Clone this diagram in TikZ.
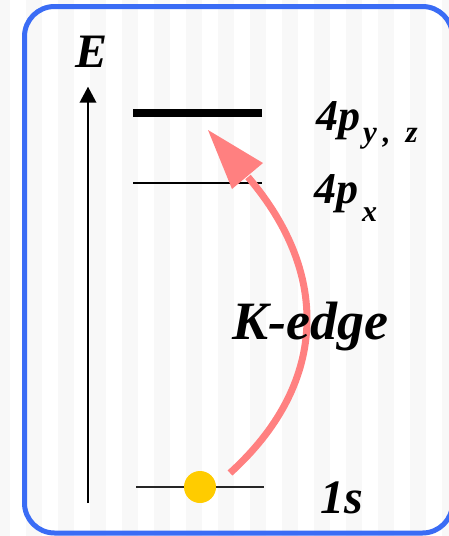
\documentclass[tikz,border=0pt]{standalone}
\usepackage{fontspec}
\setmainfont{Liberation Serif}
\usetikzlibrary{arrows.meta}
\definecolor{boxblue}{RGB}{58,108,245}
\definecolor{stripegray}{RGB}{248,248,248}
\definecolor{arrowred}{RGB}{255,128,128}
\definecolor{dotyellow}{RGB}{255,204,0}
\begin{document}
\begin{tikzpicture}[x=1pt,y=-1pt,
  lbl/.style={font=\bfseries\itshape, inner sep=0pt, anchor=base west},
  level/.style={line width=#1, black},
  kedgearrow/.style={arrowred, line width=7pt}]
\useasboundingbox (0,0) rectangle (449,536);
\clip (0,0) rectangle (449,536);
\fill[white] (0,0) rectangle (449,536);
\foreach \i in {0,...,14} \fill[stripegray] ({-6+32*\i},0) rectangle ({10+32*\i},536);
\draw[boxblue, line width=5pt, rounded corners=30pt] (24.5,6.5) rectangle (452.5,533);
% energy axis
\coordinate (ax0) at (88,503);
\coordinate (axtip) at (88,86.7);
\draw[line width=2pt, -{Triangle[length=16pt, width=16.5pt]}] (ax0) -- (axtip);
% levels
\coordinate (pyzL) at (133,113); \coordinate (pyzR) at (262,113);
\coordinate (pxL) at (133,183); \coordinate (pxR) at (262,183);
\coordinate (sL) at (136,487); \coordinate (sR) at (264,487);
\draw[level=8pt] (pyzL) -- (pyzR);
\draw[level=1.8pt] (pxL) -- (pxR);
\draw[level=1.5pt, black!85] (sL) -- (sR);
\node[circle, fill=dotyellow, minimum size=32pt, inner sep=0pt] (dot) at (200,487) {};
% K-edge transition
\coordinate (kstart) at (230,473);
\coordinate (kbase) at (248,177);
\coordinate (ktip) at (208,130);
\coordinate (kc1) at (263,163);
\coordinate (kc2) at (232,189);
\draw[kedgearrow] (kstart) .. controls (326,386) and (332.5,276) .. (kbase);
\fill[arrowred] (ktip) -- (kc1) -- (kc2) -- cycle;
% labels
\node[lbl, font=\fontsize{48}{48}\selectfont\bfseries\itshape] (Elbl) at (75,67) {E};
\node[lbl, font=\fontsize{44}{44}\selectfont\bfseries\itshape] (pyz) at (316,130) {4p\hspace{3pt}\raisebox{-12pt}{\fontsize{31}{31}\selectfont y\hspace{6pt},\hspace{15pt}z}};
\node[lbl, font=\fontsize{44}{44}\selectfont\bfseries\itshape] (px) at (314,203) {4p\hspace{4pt}\raisebox{-18pt}{\fontsize{30}{30}\selectfont x}};
\node[lbl, font=\fontsize{54}{54}\selectfont\bfseries\itshape] (kedge) at (232,339) {K-edge};
\node[lbl, font=\fontsize{48}{48}\selectfont\bfseries\itshape] (one) at (320,513) {1s};
\end{tikzpicture}
\end{document}
